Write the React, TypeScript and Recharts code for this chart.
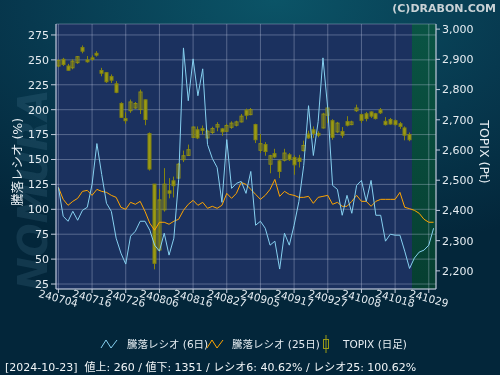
import React from 'react';
import { ComposedChart, Line, Bar, XAxis, YAxis, CartesianGrid, ReferenceArea } from 'recharts';

// trading days (yymmdd)
const dates = [
  '240704', '240705', '240708', '240709', '240710', '240711', '240712', '240716', '240717', '240718',
  '240719', '240722', '240723', '240724', '240726', '240729', '240730', '240731', '240801', '240802',
  '240805', '240806', '240807', '240808', '240809', '240813', '240814', '240815', '240816', '240819',
  '240820', '240821', '240822', '240823', '240826', '240827', '240828', '240829', '240830', '240902',
  '240903', '240904', '240905', '240906', '240909', '240910', '240911', '240912', '240913', '240917',
  '240918', '240919', '240920', '240924', '240925', '240926', '240927', '240930', '241001', '241002',
  '241003', '241004', '241007', '241008', '241009', '241010', '241011', '241015', '241016', '241017',
  '241018', '241021', '241022', '241023', '241024', '241025', '241028', '241029', '241030',
];

const xTicks = [
  '240704', '240716', '240726', '240806', '240816', '240827',
  '240905', '240917', '240927', '241008', '241018', '241029',
];
const leftTicks = [25, 50, 75, 100, 125, 150, 175, 200, 225, 250, 275];
const rightTicks = [2200, 2300, 2400, 2500, 2600, 2700, 2800, 2900, 3000];

// 騰落レシオ (6日)
const ratio6 = [
  122, 93, 88, 98, 89, 99, 102, 125, 166, 135,
  106, 98, 71, 56, 45, 73, 78, 88, 88, 79,
  64, 58, 76, 54, 71, 130, 262, 209, 251, 214,
  241, 165, 151, 142, 107, 170, 121, 126, 128, 116,
  138, 84, 88, 81, 64, 68, 40, 76, 64, 84,
  108, 144, 204, 154, 188, 252, 201, 124, 120, 94,
  114, 96, 124, 129, 108, 129, 94, 94, 68, 75,
  74, 74, 58, 40.62, 51, 57, 59, 64, 81,
];

// 騰落レシオ (25日)
const ratio25 = [
  122, 110, 104, 108, 111, 118, 119, 114, 120, 118,
  117, 114, 112, 102, 100, 107, 105, 108, 98, 86,
  79, 87, 87, 85, 88, 90, 99, 105, 109, 104,
  107, 101, 103, 101, 104, 116, 111, 116, 127, 125,
  120, 115, 110, 114, 120, 130, 113, 118, 115, 114,
  112, 112, 113, 106, 112, 113, 114, 105, 107, 103,
  103, 108, 114, 108, 108, 103, 108, 110, 110, 110,
  110, 117, 102, 100.62, 99, 96, 90, 87, 87,
];

// TOPIX daily candles (up to 241023)
const topixOpen = [
  2878, 2900, 2878, 2872, 2889, 2939, 2898, 2905, 2920, 2863,
  2856, 2843, 2819, 2754, 2704, 2730, 2739, 2734, 2766, 2654,
  2487, 2269, 2402, 2465, 2498, 2507, 2568, 2582, 2642, 2667,
  2671, 2640, 2658, 2676, 2670, 2662, 2675, 2682, 2693, 2732,
  2717, 2684, 2599, 2618, 2553, 2588, 2564, 2566, 2584, 2575,
  2573, 2598, 2653, 2667, 2655, 2673, 2715, 2697, 2660, 2661,
  2694, 2684, 2730, 2717, 2720, 2726, 2720, 2733, 2695, 2701,
  2697, 2687, 2673, 2651,
];
const topixClose = [
  2896, 2883, 2864, 2894, 2909, 2927, 2892, 2900, 2914, 2854,
  2826, 2831, 2791, 2708, 2697, 2759, 2754, 2792, 2701, 2537,
  2225, 2435, 2487, 2457, 2482, 2553, 2581, 2601, 2676, 2640,
  2665, 2662, 2671, 2684, 2660, 2681, 2689, 2693, 2712, 2715,
  2734, 2634, 2621, 2595, 2581, 2577, 2529, 2590, 2568, 2551,
  2562, 2615, 2640, 2655, 2649, 2719, 2739, 2642, 2689, 2649,
  2682, 2693, 2739, 2698, 2704, 2712, 2704, 2723, 2684, 2686,
  2684, 2678, 2649, 2634,
];
const topixHigh = [
  2900, 2905, 2885, 2900, 2911, 2946, 2911, 2913, 2927, 2872,
  2858, 2850, 2828, 2758, 2725, 2767, 2759, 2800, 2767, 2658,
  2487, 2471, 2540, 2507, 2512, 2557, 2598, 2618, 2678, 2678,
  2681, 2667, 2677, 2692, 2673, 2687, 2695, 2697, 2719, 2737,
  2739, 2687, 2653, 2626, 2584, 2604, 2568, 2604, 2590, 2582,
  2584, 2631, 2664, 2678, 2662, 2723, 2745, 2702, 2693, 2676,
  2712, 2697, 2750, 2720, 2726, 2728, 2723, 2739, 2709, 2706,
  2701, 2693, 2678, 2658,
];
const topixLow = [
  2874, 2878, 2863, 2867, 2885, 2920, 2889, 2896, 2909, 2844,
  2822, 2822, 2788, 2706, 2687, 2723, 2736, 2719, 2682, 2532,
  2205, 2263, 2396, 2440, 2443, 2505, 2560, 2581, 2640, 2636,
  2651, 2637, 2653, 2662, 2647, 2660, 2670, 2678, 2691, 2701,
  2715, 2623, 2590, 2581, 2523, 2573, 2507, 2562, 2564, 2518,
  2542, 2595, 2637, 2640, 2642, 2671, 2689, 2634, 2656, 2640,
  2678, 2682, 2726, 2689, 2695, 2706, 2701, 2719, 2681, 2684,
  2681, 2670, 2632, 2629,
];

const data = dates.map((d, i) => ({
  date: d,
  r6: ratio6[i],
  r25: ratio25[i],
  open: topixOpen[i],
  close: topixClose[i],
  high: topixHigh[i],
  low: topixLow[i],
  range: topixOpen[i] != null ? [topixLow[i], topixHigh[i]] : null,
}));

const FONT = '"DejaVu Sans", "Noto Sans CJK JP", sans-serif';
const TEXT = '#e6edf2';
const AXIS = '#c3cbdc';
const OLIVE = '#9a9a16';
const GRID = 'rgba(200,210,232,0.35)';

const Candle = (props: any) => {
  const { x, y, width, height, payload } = props;
  if (!payload || payload.open == null || height == null) return null;
  const top = Math.min(y, y + height);
  const h = Math.abs(height);
  const span = payload.high - payload.low || 1;
  const toY = (v: number) => top + ((payload.high - v) / span) * h;
  const cx = Math.round(x + width / 2) + 0.5;
  const up = payload.close >= payload.open;
  const bTop = toY(Math.max(payload.open, payload.close));
  const bBot = toY(Math.min(payload.open, payload.close));
  return (
    <g>
      <line x1={cx} x2={cx} y1={top} y2={top + h} stroke="#84840f" strokeWidth={1} />
      <rect
        x={cx - 1.5}
        y={bTop}
        width={3}
        height={Math.max(bBot - bTop, 1)}
        fill={up ? 'rgba(120,120,30,0.35)' : OLIVE}
        stroke={up ? '#8d8d16' : '#84840f'}
        strokeWidth={1}
      />
    </g>
  );
};

const DateTick = (props: any) => {
  const { x, y, payload } = props;
  return (
    <g transform={`translate(${x},${y + 3.5}) rotate(15)`}>
      <text textAnchor="middle" dy="0.35em" fill={TEXT} fontSize={10.5} fontFamily={FONT}>
        {payload.value}
      </text>
    </g>
  );
};

const Zig = ({ color }: { color: string }) => (
  <svg width={18} height={10} style={{ position: 'absolute', left: 0, top: 3 }}>
    <polyline points="1,9 6,1 11,9 17,1" fill="none" stroke={color} strokeWidth={1} />
  </svg>
);

const CandleIcon = () => (
  <svg width={10} height={18} style={{ position: 'absolute', left: 0, top: -1 }}>
    <line x1={5} x2={5} y1={0} y2={18} stroke={OLIVE} />
    <rect x={2.5} y={4.5} width={5} height={9} fill="none" stroke={OLIVE} />
  </svg>
);

const legendItems = [
  { left: 100, textLeft: 27, label: '騰落レシオ (6日)', icon: <Zig color="#86d0f0" /> },
  { left: 206, textLeft: 26, label: '騰落レシオ (25日)', icon: <Zig color="#ffa500" /> },
  { left: 321, textLeft: 22, label: 'TOPIX (日足)', icon: <CandleIcon /> },
];

export default function App() {
  return (
    <div
      style={{
        position: 'fixed',
        left: 0,
        top: 0,
        width: 500,
        height: 375,
        overflow: 'hidden',
        fontFamily: FONT,
        background: 'radial-gradient(ellipse 90% 70% at 55% 0%, #0b5467 0%, #07394f 55%, #03263a 100%)',
      }}
    >
      <svg width={500} height={375} style={{ position: 'absolute', left: 0, top: 0 }}>
        <text
          transform="translate(33,190) rotate(-90)"
          textAnchor="middle"
          dominantBaseline="central"
          fontSize={40}
          fontWeight="bold"
          fontStyle="italic"
          fontFamily={FONT}
          fill="rgba(110,160,185,0.15)"
        >
          NOMURA
        </text>
      </svg>

      <ComposedChart
        width={500}
        height={375}
        data={data}
        margin={{ top: 24, right: 0, bottom: 0, left: 0 }}
        style={{ position: 'absolute', left: 0, top: 0 }}
      >
        <defs>
          <linearGradient id="recent" x1="0" y1="0" x2="0" y2="1">
            <stop offset="0%" stopColor="#0a5444" />
            <stop offset="100%" stopColor="#063f31" />
          </linearGradient>
        </defs>
        <CartesianGrid yAxisId="left" fill="#1b315f" fillOpacity={1} horizontal={false} vertical={false} />
        <ReferenceArea
          yAxisId="left"
          x1="241024"
          x2="241030"
          fill="url(#recent)"
          fillOpacity={1}
          stroke="none"
          {...({ zIndex: -90 } as any)}
        />
        <CartesianGrid yAxisId="left" stroke={GRID} {...({ zIndex: -80 } as any)} />
        <XAxis
          dataKey="date"
          ticks={xTicks}
          interval={0}
          height={86}
          tickSize={4}
          tickMargin={2}
          tick={<DateTick />}
          stroke={AXIS}
        />
        <YAxis
          yAxisId="left"
          width={56}
          domain={[20, 286]}
          ticks={leftTicks}
          allowDataOverflow
          tickSize={5}
          tickMargin={2}
          stroke={AXIS}
          tick={{ fill: TEXT, fontSize: 11, fontFamily: FONT }}
        />
        <YAxis
          yAxisId="right"
          orientation="right"
          width={64}
          domain={[2140, 3017]}
          ticks={rightTicks}
          allowDataOverflow
          tickSize={4}
          tickMargin={2}
          stroke={AXIS}
          tickFormatter={(v: number) => v.toLocaleString('en-US')}
          tick={{ fill: TEXT, fontSize: 11, fontFamily: FONT }}
        />
        <Bar yAxisId="right" dataKey="range" barSize={4} shape={<Candle />} isAnimationActive={false} />
        <Line yAxisId="left" type="linear" dataKey="r25" stroke="#ffa500" strokeWidth={1} dot={false} isAnimationActive={false} />
        <Line yAxisId="left" type="linear" dataKey="r6" stroke="#86d0f0" strokeWidth={1} dot={false} isAnimationActive={false} />
      </ComposedChart>

      <svg width={500} height={375} style={{ position: 'absolute', left: 0, top: 0, pointerEvents: 'none' }}>
        <text transform="translate(17,162) rotate(-90)" textAnchor="middle" dominantBaseline="central" fill={TEXT} fontSize={12.5} fontFamily={FONT}>
          騰落レシオ (%)
        </text>
        <text transform="translate(484,152) rotate(90)" textAnchor="middle" dominantBaseline="central" fill={TEXT} fontSize={12.5} fontFamily={FONT}>
          TOPIX (Pt)
        </text>
        <text x={496} y={12} textAnchor="end" fill="#c9d2d6" fontSize={11} fontWeight="bold" fontFamily={FONT}>
          (C)DRABON.COM
        </text>
      </svg>

      {legendItems.map((it) => (
        <div key={it.label} style={{ position: 'absolute', left: it.left, top: 336, height: 16, color: TEXT, fontSize: 10.5 }}>
          {it.icon}
          <span style={{ position: 'absolute', left: it.textLeft, top: 0, whiteSpace: 'pre', lineHeight: '16px' }}>{it.label}</span>
        </div>
      ))}

      <div style={{ position: 'absolute', left: 5, top: 358, color: '#f0f4f6', fontSize: 11, whiteSpace: 'pre' }}>
        [2024-10-23]  値上: 260 / 値下: 1351 / レシオ6: 40.62% / レシオ25: 100.62%
      </div>
    </div>
  );
}
